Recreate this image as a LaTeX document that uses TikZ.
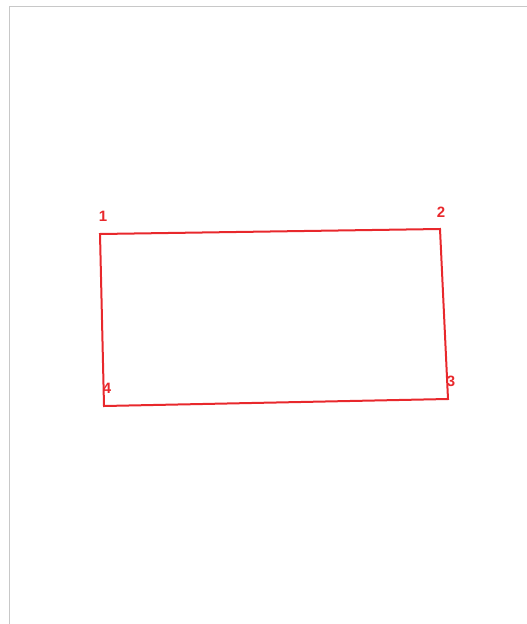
\documentclass[tikz,border=0pt]{standalone}
\usepackage{fontspec}
\setmainfont{Liberation Sans}
\usepackage{xcolor}
\definecolor{edgered}{HTML}{E8282C}
\definecolor{framegray}{HTML}{C8C8C8}
\usetikzlibrary{positioning}

\begin{document}
\begin{tikzpicture}[
        x=1pt, y=-1pt,
        corner/.style={
            font=\bfseries\fontsize{15}{15}\selectfont,
            text=edgered,
            inner sep=0pt
        },
        edge/.style={
            draw=edgered,
            line width=2pt,
            line join=miter
        },
        frame/.style={
            draw=framegray,
            line width=0.8pt
        }
    ]

    % Canvas
    \useasboundingbox (0,0) rectangle (527,624);
    \draw[frame] (9,624) -- (9,6) -- (527,6);

    % Corners
    \coordinate (c1) at (100,234);
    \coordinate (c2) at (440,229);
    \coordinate (c3) at (448,399);
    \coordinate (c4) at (104,406);

    % Labels
    \node[corner] (n1) at (103,216) {1};
    \node[corner] (n2) at (441,212) {2};
    \node[corner] (n3) at (451,381) {3};
    \node[corner] (n4) at (107,388) {4};

    % Rectangle
    \draw[edge] (c1) -- (c2) -- (c3) -- (c4) -- cycle;

\end{tikzpicture}
\end{document}
